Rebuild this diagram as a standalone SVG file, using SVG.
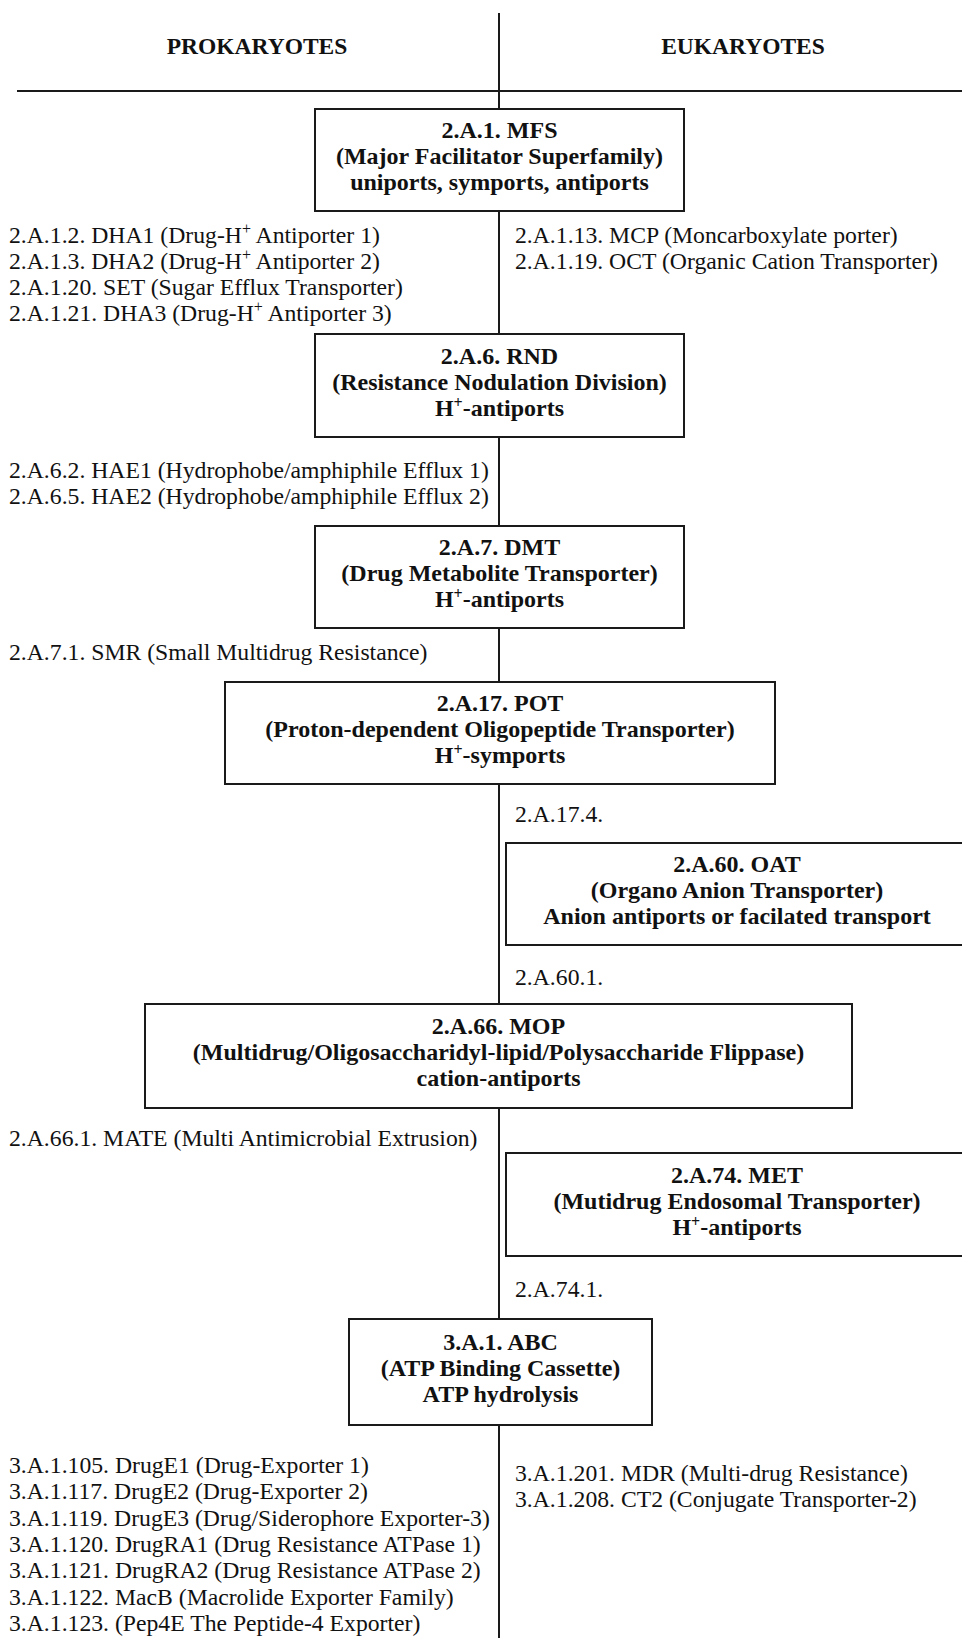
<svg xmlns="http://www.w3.org/2000/svg" width="962" height="1638" viewBox="0 0 962 1638">
<style>
.box{fill:#fff;stroke:#1a1a1a;stroke-width:2}
.ln{stroke:#1a1a1a;stroke-width:2;fill:none}
.b{font-family:"Liberation Serif","Times New Roman",serif;font-weight:bold;font-size:24px;fill:#111;text-anchor:middle}
.h{font-family:"Liberation Serif","Times New Roman",serif;font-weight:bold;font-size:23.5px;fill:#111;text-anchor:middle}
.r{font-family:"Liberation Serif","Times New Roman",serif;font-size:23.7px;fill:#111}
.sup{font-size:16px}
</style>
<rect width="962" height="1638" fill="#fff"/>
<g id="connectors">
<line class="ln" x1="499" y1="13" x2="499" y2="1638"/>
<line class="ln" x1="17" y1="91" x2="962" y2="91"/>
</g>
<g id="headers">
<text class="h" x="257" y="54">PROKARYOTES</text>
<text class="h" x="743" y="54">EUKARYOTES</text>
</g>
<g id="mfs">
<rect class="box" x="315" y="109" width="369" height="102"/>
<text class="b" x="499.5" y="138">2.A.1. MFS</text>
<text class="b" x="499.5" y="164">(Major Facilitator Superfamily)</text>
<text class="b" x="499.5" y="190">uniports, symports, antiports</text>
</g>
<g id="mfs-prok">
<text class="r" x="9" y="243">2.A.1.2. DHA1 (Drug-H<tspan class="sup" dy="-9">+</tspan><tspan dy="9"> Antiporter 1)</tspan></text>
<text class="r" x="9" y="269">2.A.1.3. DHA2 (Drug-H<tspan class="sup" dy="-9">+</tspan><tspan dy="9"> Antiporter 2)</tspan></text>
<text class="r" x="9" y="295">2.A.1.20. SET (Sugar Efflux Transporter)</text>
<text class="r" x="9" y="321">2.A.1.21. DHA3 (Drug-H<tspan class="sup" dy="-9">+</tspan><tspan dy="9"> Antiporter 3)</tspan></text>
</g>
<g id="mfs-euk">
<text class="r" x="515" y="243">2.A.1.13. MCP (Moncarboxylate porter)</text>
<text class="r" x="515" y="269">2.A.1.19. OCT (Organic Cation Transporter)</text>
</g>
<g id="rnd">
<rect class="box" x="315" y="334" width="369" height="103"/>
<text class="b" x="499.5" y="363.5">2.A.6. RND</text>
<text class="b" x="499.5" y="389.5">(Resistance Nodulation Division)</text>
<text class="b" x="499.5" y="415.5">H<tspan class="sup" dy="-8">+</tspan><tspan dy="8">-antiports</tspan></text>
</g>
<g id="rnd-prok">
<text class="r" x="9" y="478">2.A.6.2. HAE1 (Hydrophobe/amphiphile Efflux 1)</text>
<text class="r" x="9" y="504">2.A.6.5. HAE2 (Hydrophobe/amphiphile Efflux 2)</text>
</g>
<g id="dmt">
<rect class="box" x="315" y="526" width="369" height="102"/>
<text class="b" x="499.5" y="555">2.A.7. DMT</text>
<text class="b" x="499.5" y="581">(Drug Metabolite Transporter)</text>
<text class="b" x="499.5" y="607">H<tspan class="sup" dy="-8">+</tspan><tspan dy="8">-antiports</tspan></text>
</g>
<g id="dmt-prok">
<text class="r" x="9" y="660">2.A.7.1. SMR (Small Multidrug Resistance)</text>
</g>
<g id="pot">
<rect class="box" x="225" y="682" width="550" height="102"/>
<text class="b" x="500" y="711">2.A.17. POT</text>
<text class="b" x="500" y="737">(Proton-dependent Oligopeptide Transporter)</text>
<text class="b" x="500" y="763">H<tspan class="sup" dy="-8">+</tspan><tspan dy="8">-symports</tspan></text>
</g>
<g id="pot-euk">
<text class="r" x="515" y="822">2.A.17.4.</text>
</g>
<g id="oat">
<rect class="box" x="506" y="843" width="462" height="102"/>
<text class="b" x="737" y="872">2.A.60. OAT</text>
<text class="b" x="737" y="898">(Organo Anion Transporter)</text>
<text class="b" x="737" y="924">Anion antiports or facilated transport</text>
</g>
<g id="oat-euk">
<text class="r" x="515" y="985">2.A.60.1.</text>
</g>
<g id="mop">
<rect class="box" x="145" y="1004" width="707" height="104"/>
<text class="b" x="498.5" y="1034">2.A.66. MOP</text>
<text class="b" x="498.5" y="1060">(Multidrug/Oligosaccharidyl-lipid/Polysaccharide Flippase)</text>
<text class="b" x="498.5" y="1086">cation-antiports</text>
</g>
<g id="mop-prok">
<text class="r" x="9" y="1146">2.A.66.1. MATE (Multi Antimicrobial Extrusion)</text>
</g>
<g id="met">
<rect class="box" x="506" y="1153" width="462" height="103"/>
<text class="b" x="737" y="1182.5">2.A.74. MET</text>
<text class="b" x="737" y="1208.5">(Mutidrug Endosomal Transporter)</text>
<text class="b" x="737" y="1234.5">H<tspan class="sup" dy="-8">+</tspan><tspan dy="8">-antiports</tspan></text>
</g>
<g id="met-euk">
<text class="r" x="515" y="1297">2.A.74.1.</text>
</g>
<g id="abc">
<rect class="box" x="349" y="1319" width="303" height="106"/>
<text class="b" x="500.5" y="1350">3.A.1. ABC</text>
<text class="b" x="500.5" y="1376">(ATP Binding Cassette)</text>
<text class="b" x="500.5" y="1402">ATP hydrolysis</text>
</g>
<g id="abc-prok">
<text class="r" x="9" y="1473">3.A.1.105. DrugE1 (Drug-Exporter 1)</text>
<text class="r" x="9" y="1499.3">3.A.1.117. DrugE2 (Drug-Exporter 2)</text>
<text class="r" x="9" y="1525.6">3.A.1.119. DrugE3 (Drug/Siderophore Exporter-3)</text>
<text class="r" x="9" y="1551.9">3.A.1.120. DrugRA1 (Drug Resistance ATPase 1)</text>
<text class="r" x="9" y="1578.2">3.A.1.121. DrugRA2 (Drug Resistance ATPase 2)</text>
<text class="r" x="9" y="1604.5">3.A.1.122. MacB (Macrolide Exporter Family)</text>
<text class="r" x="9" y="1630.8">3.A.1.123. (Pep4E The Peptide-4 Exporter)</text>
</g>
<g id="abc-euk">
<text class="r" x="515" y="1481">3.A.1.201. MDR (Multi-drug Resistance)</text>
<text class="r" x="515" y="1507">3.A.1.208. CT2 (Conjugate Transporter-2)</text>
</g>
</svg>
